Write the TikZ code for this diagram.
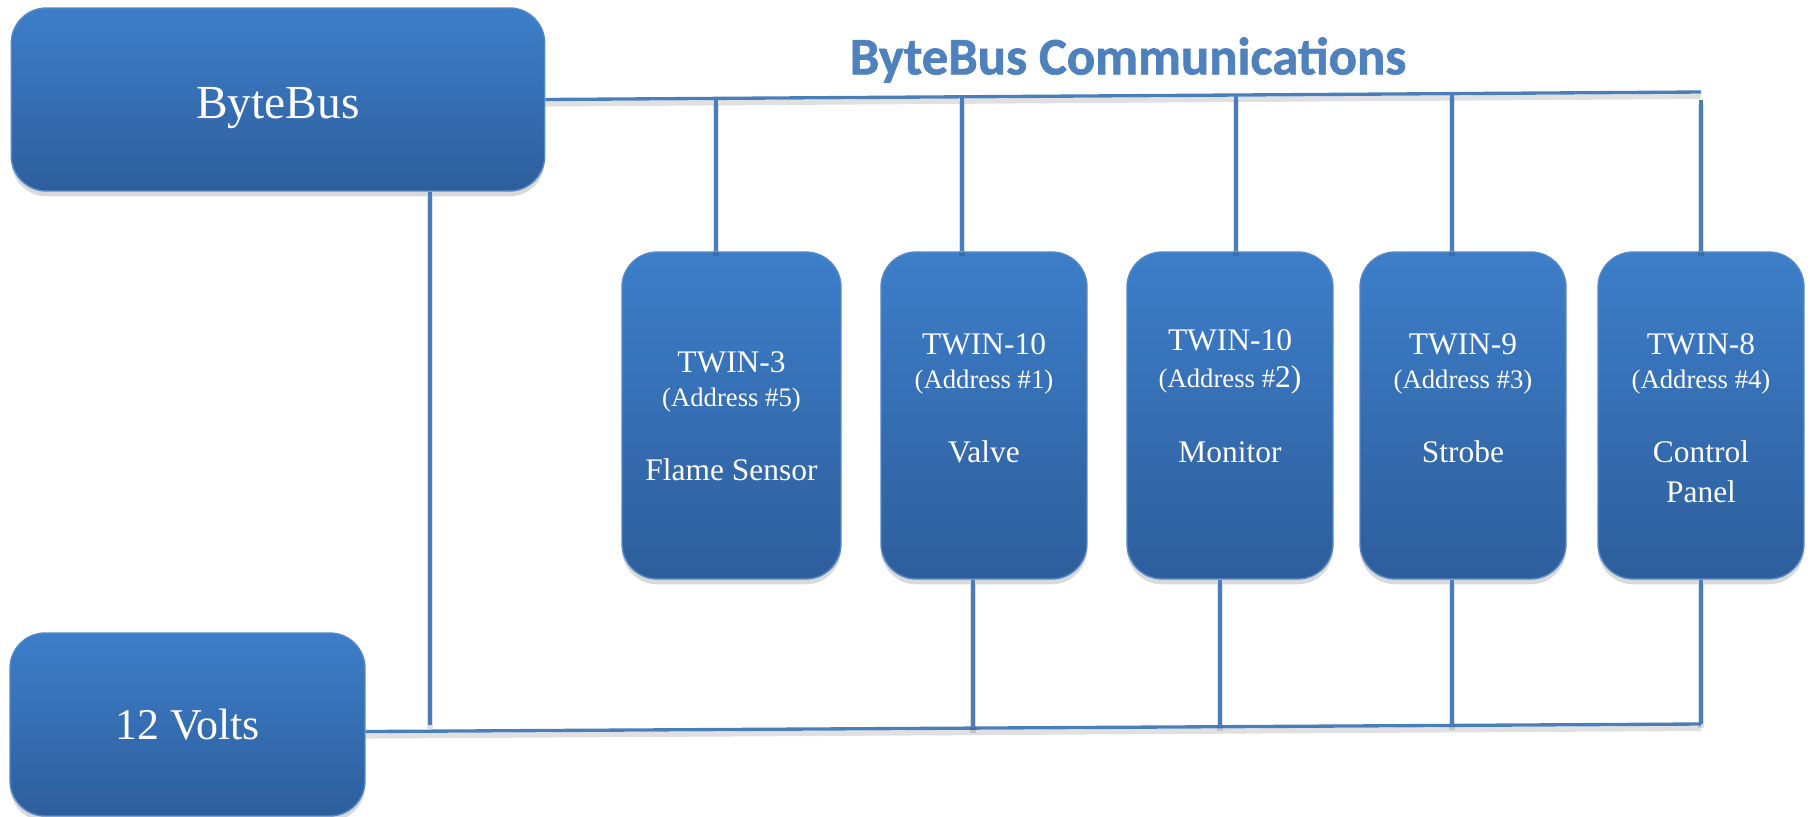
\documentclass[tikz,border=0pt]{standalone}
\usepackage{fontspec}
\setmainfont{Liberation Serif}
\newfontfamily\headfont{Carlito}[BoldFeatures={FakeBold=1.2}]
\usetikzlibrary{shadows}
\definecolor{boxtop}{RGB}{61,126,201}
\definecolor{boxbot}{RGB}{46,94,156}
\definecolor{boxedge}{RGB}{84,136,198}
\definecolor{wire}{RGB}{74,126,187}
\definecolor{headblue}{RGB}{79,129,189}
\tikzset{
  unit/.style={rounded corners=20pt, top color=boxtop, bottom color=boxbot, draw=boxedge, line width=0.8pt,
    drop shadow={shadow xshift=0pt, shadow yshift=-3pt, opacity=0.3}, text=white},
  twin/.style={unit, minimum width=4.12cm, minimum height=6.54cm, inner sep=0pt},
  twintext/.style={text=white, align=center, anchor=north, inner sep=0pt, font=\fontsize{17.9}{19.3}\selectfont},
  bus/.style={draw=wire, line width=1.9pt,
    preaction={draw=black, opacity=0.12, line width=3pt, transform canvas={yshift=-2.5pt}}}
}
\newcommand{\addr}[1]{{\fontsize{15.2}{19.3}\selectfont (Address \##1)}}
\begin{document}
\begin{tikzpicture}[x=0.02cm, y=-0.02cm]
\useasboundingbox (0,0) rectangle (1810,816);
% heading
\node[text=headblue, font=\headfont\bfseries\fontsize{30}{36}\selectfont] (head) at (1128,60) {ByteBus Communications};
% bus and supply
\node[unit, minimum width=10.67cm, minimum height=3.66cm, font=\fontsize{27}{32}\selectfont] (bbus) at (278,99.5) {\raisebox{-11pt}[0pt][0pt]{ByteBus}};
\node[unit, minimum width=7.1cm, minimum height=3.66cm, font=\fontsize{25}{30}\selectfont] (volts) at (187.5,724.5) {12 Volts};
% devices
\node[twin, minimum width=4.38cm] (f1) at (731.5,415.5) {};
\node[twin] (f2) at (984,415.5) {};
\node[twin] (f3) at (1230,415.5) {};
\node[twin] (f4) at (1463,415.5) {};
\node[twin] (f5) at (1701,415.5) {};
\node[twintext] (f1t) at ([yshift=-56.7pt]f1.north) {TWIN-3\\\addr{5}\\[23.2pt]Flame Sensor};
\node[twintext] (f2t) at ([yshift=-46.5pt]f2.north) {TWIN-10\\\addr{1}\\[23.2pt]Valve};
\node[twintext] (f3t) at ([yshift=-44.2pt]f3.north) {TWIN-10\\[2pt]{\fontsize{15.2}{19.3}\selectfont (Address \#}2)\\[23.2pt]Monitor};
\node[twintext] (f4t) at ([yshift=-46.5pt]f4.north) {TWIN-9\\\addr{3}\\[23.2pt]Strobe};
\node[twintext] (f5t) at ([yshift=-46.5pt]f5.north) {TWIN-8\\\addr{4}\\[23.2pt]Control\\[3.4pt]Panel};
% taps
\coordinate (t1) at (716,99.7);
\coordinate (t2) at (962,97.8);
\coordinate (t3) at (1236,95.6);
\coordinate (t4) at (1452,93.9);
\coordinate (t5) at (1701,92);
\coordinate (b2) at (973,728.4);
\coordinate (b3) at (1220,726.9);
\coordinate (b4) at (1452,725.5);
\coordinate (b5) at (1701,724);
\coordinate (lv) at (430,725);
% wiring
\draw[bus] (bbus.east) -- (t5);
\foreach \i in {1,...,4}
  \draw[bus] (t\i) -- (t\i |- f\i.north);
\draw[bus] ([yshift=-4.5pt]t5) -- (f5.north);
\draw[bus] ([yshift=-4pt]volts.east) -- (b5);
\foreach \i in {2,...,5}
  \draw[bus] (f\i.south -| b\i) -- (b\i);
\draw[bus] (bbus.south -| lv) -- (lv);
\end{tikzpicture}
\end{document}
